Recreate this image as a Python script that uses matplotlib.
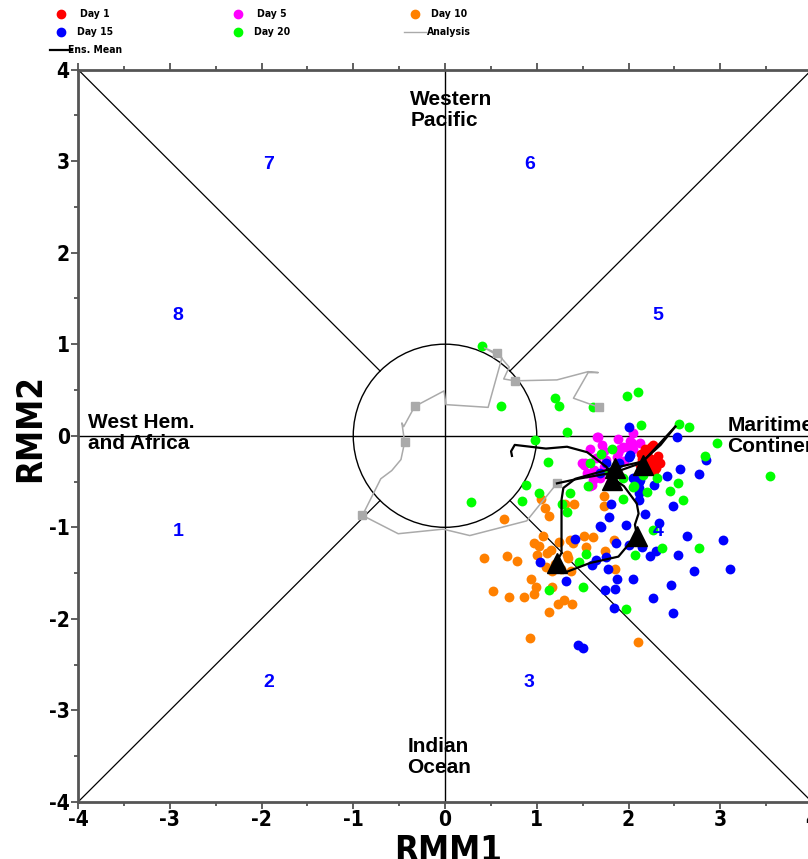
import numpy as np
import matplotlib
matplotlib.use("Agg")
from matplotlib import pyplot as plt
from matplotlib.lines import Line2D
from matplotlib.patches import Circle

plt.rcParams["axes.unicode_minus"] = False

W, H = 808, 859

# ensemble members, by forecast day
day1_x = [2.20, 2.25, 2.30, 2.15, 2.22, 2.28, 2.18, 2.32, 2.12, 2.26, 2.34, 2.20, 2.24, 2.30, 2.14, 2.27]
day1_y = [-0.20, -0.25, -0.30, -0.25, -0.35, -0.38, -0.15, -0.22, -0.32, -0.30, -0.30, -0.28, -0.12, -0.35, -0.20, -0.10]

day5_x = [1.67, 1.71, 1.58, 1.73, 1.53, 1.65, 1.62, 1.60, 1.55, 1.89, 2.04, 1.91, 1.98, 1.87, 1.76,
          1.73, 1.69, 1.61, 1.80, 2.13, 2.05, 1.66, 1.51, 1.62, 2.02, 1.94, 2.05, 1.89, 1.49, 1.58, 1.78, 1.95]
day5_y = [-0.01, -0.10, -0.15, -0.17, -0.30, -0.24, -0.37, -0.54, -0.41, -0.04, -0.08, -0.15, -0.12, -0.23, -0.26,
          -0.34, -0.46, -0.48, -0.52, -0.08, -0.15, -0.01, -0.32, -0.43, -0.06, -0.12, 0.03, -0.19, -0.30, -0.55, -0.40, -0.28]

day10_x = [1.73, 1.73, 1.31, 1.41, 1.05, 1.09, 1.13, 0.64, 1.07, 0.97, 1.24, 1.36, 1.52, 1.61, 1.54, 1.15,
           1.00, 0.68, 0.78, 0.42, 1.34, 1.37, 1.10, 1.17, 0.94, 0.99, 1.17, 0.97, 0.86, 0.70, 0.52, 1.23,
           1.30, 1.38, 1.13, 0.93, 1.74, 1.85, 2.10, 1.84, 1.11, 1.40, 1.33, 1.20, 1.26, 1.02]
day10_y = [-0.66, -0.77, -0.74, -0.74, -0.69, -0.79, -0.88, -0.91, -1.10, -1.17, -1.16, -1.14, -1.10, -1.11, -1.22, -1.25,
           -1.30, -1.31, -1.37, -1.33, -1.34, -1.48, -1.43, -1.48, -1.56, -1.65, -1.65, -1.73, -1.76, -1.76, -1.70, -1.84,
           -1.79, -1.84, -1.93, -2.21, -1.26, -1.45, -2.25, -1.14, -1.28, -1.17, -1.30, -1.40, -1.45, -1.20]

day15_x = [2.00, 2.53, 2.84, 2.56, 2.77, 2.42, 2.28, 2.13, 2.05, 2.11, 2.49, 2.18, 2.33, 1.81, 1.79, 1.69,
           1.97, 1.42, 1.86, 2.00, 2.15, 2.23, 2.30, 1.76, 1.65, 1.60, 1.78, 1.87, 2.05, 1.74, 1.85, 2.27,
           1.84, 2.49, 2.54, 2.64, 2.71, 2.46, 3.03, 3.11, 1.04, 1.32, 1.45, 1.50, 2.02, 2.11, 1.69, 2.01,
           2.11, 1.70, 2.11, 1.90, 1.75]
day15_y = [0.10, -0.01, -0.26, -0.36, -0.42, -0.44, -0.54, -0.48, -0.46, -0.70, -0.77, -0.85, -0.95, -0.74, -0.89, -0.99,
           -0.98, -1.13, -1.17, -1.19, -1.21, -1.31, -1.26, -1.32, -1.36, -1.41, -1.46, -1.56, -1.56, -1.69, -1.67, -1.77,
           -1.88, -1.94, -1.30, -1.10, -1.48, -1.63, -1.14, -1.45, -1.38, -1.59, -2.28, -2.32, -0.21, -0.50, -0.41, -0.23,
           -0.63, -1.00, -0.57, -0.30, -0.30]

day20_x = [0.40, 0.61, 1.20, 1.24, 1.61, 1.33, 0.98, 1.12, 0.88, 1.02, 0.84, 0.28, 1.36, 1.27, 1.33, 1.56,
           1.58, 1.82, 1.98, 2.10, 2.14, 2.55, 2.66, 2.96, 2.83, 3.54, 2.54, 2.45, 2.59, 2.31, 2.20, 2.06,
           1.94, 2.16, 1.94, 2.27, 2.37, 2.07, 2.77, 1.54, 1.46, 1.50, 1.13, 1.97, 1.79, 1.70, 2.05]
day20_y = [0.98, 0.32, 0.41, 0.33, 0.31, 0.04, -0.05, -0.29, -0.54, -0.62, -0.71, -0.72, -0.63, -0.75, -0.83, -0.55,
           -0.30, -0.15, 0.43, 0.48, 0.12, 0.13, 0.10, -0.08, -0.22, -0.44, -0.52, -0.60, -0.70, -0.46, -0.61, -0.55,
           -0.46, -0.43, -0.69, -1.03, -1.23, -1.30, -1.23, -1.29, -1.38, -1.65, -1.68, -1.89, -0.40, -0.20, -0.56]

# observed analysis track and its 5-day marks
ana_x = [1.68, 1.40, 1.56, 1.67, 1.56, 1.22, 0.76, 0.64, 0.70, 0.57, 0.43, 0.62, 0.47, 0.01, -0.01, -0.33,
         -0.45, -0.47, -0.44, -0.48, -0.58, -0.70, -0.90, -0.51, -0.02, 0.27, 0.89, 1.22]
ana_y = [0.31, 0.41, 0.69, 0.69, 0.70, 0.61, 0.60, 0.62, 0.75, 0.90, 0.96, 0.85, 0.31, 0.34, 0.49, 0.32,
         0.10, 0.14, -0.07, -0.26, -0.38, -0.47, -0.87, -1.07, -1.02, -1.09, -0.93, -0.52]
ana_sq_x = [1.68, 0.76, 0.57, -0.33, -0.44, -0.90, 1.22]
ana_sq_y = [0.31, 0.60, 0.90, 0.32, -0.07, -0.87, -0.52]

# ensemble mean tracks
ens1_x = [1.22, 1.45, 1.85, 2.13, 2.35, 2.51]
ens1_y = [-0.52, -0.47, -0.40, -0.30, -0.10, 0.10]
ens2_x = [0.73, 0.72, 0.76, 0.93, 1.10, 1.33, 1.55, 1.76, 1.82, 1.95, 2.09, 2.11, 2.07, 2.09, 1.89, 1.58,
          1.29, 1.22, 1.27, 1.27, 1.29, 1.42, 1.85, 2.16, 2.51]
ens2_y = [-0.22, -0.17, -0.10, -0.12, -0.14, -0.12, -0.18, -0.34, -0.46, -0.55, -0.74, -0.85, -0.97, -1.08, -1.32, -1.39,
          -1.50, -1.37, -1.28, -0.70, -0.57, -0.47, -0.35, -0.28, 0.10]
tri_x = [2.16, 1.85, 1.82, 2.09, 1.22]
tri_y = [-0.32, -0.35, -0.48, -1.10, -1.39]

phase_nums = ["1", "2", "3", "4", "5", "6", "7", "8"]
phase_x = [-2.91, -1.92, 0.92, 2.32, 2.32, 0.92, -1.92, -2.91]
phase_y = [-1.05, -2.70, -2.70, -1.05, 1.31, 2.96, 2.96, 1.31]

regions = ["Western\nPacific", "Indian\nOcean", "West Hem.\nand Africa", "Maritime\nContinent"]
region_x = [-0.38, -0.41, -3.89, 3.08]
region_y = [3.56, -3.51, 0.03, 0.0]

ticks = [-4, -3, -2, -1, 0, 1, 2, 3, 4]

SANS = ["Liberation Sans", "DejaVu Sans"]
COND = dict(family="DejaVu Sans", fontstretch="condensed", fontweight="bold")

fig = plt.figure(figsize=(W / 100, H / 100), dpi=100)
ax = fig.add_axes([78 / W, 1 - 802 / H, 734 / W, 732.5 / H])
ax.set_xlim(-4, 4)
ax.set_ylim(-4, 4)

# phase-space frame: unit circle, axes, diagonals
ax.add_patch(Circle((0, 0), 1.0, fill=False, color="black", lw=1.0, zorder=1))
ax.plot([-4, 4], [0, 0], color="black", lw=1.0, zorder=1)
ax.plot([0, 0], [-4, 4], color="black", lw=1.0, zorder=1)
r = np.sqrt(0.5)
for sx, sy in [(1, 1), (-1, 1), (1, -1), (-1, -1)]:
    ax.plot([sx * r, sx * 4], [sy * r, sy * 4], color="black", lw=0.9, zorder=1)

# members
dot = dict(s=50, linewidths=0, zorder=3)
ax.scatter(day5_x, day5_y, color="#ff00ff", **dot)
ax.scatter(day1_x, day1_y, color="#ff0000", **dot)
ax.scatter(day10_x, day10_y, color="#ff8000", **dot)
ax.scatter(day15_x, day15_y, color="#0000ff", **dot)
ax.scatter(day20_x, day20_y, color="#00ff00", **dot)

# analysis
ax.plot(ana_x, ana_y, color="#aaaaaa", lw=1.1, zorder=4)
ax.plot(ana_sq_x, ana_sq_y, ls="none", marker="s", ms=6, color="#aaaaaa", zorder=4)

# ensemble mean
ax.plot(ens1_x, ens1_y, color="black", lw=1.6, zorder=5)
ax.plot(ens2_x, ens2_y, color="black", lw=1.6, zorder=5)
ax.plot(tri_x, tri_y, ls="none", marker="^", ms=14, color="black", zorder=6)

for t, x, y in zip(phase_nums, phase_x, phase_y):
    ax.text(x, y, t, color="#0000ff", fontsize=14, fontweight="bold",
            ha="center", va="center", family=SANS)
for t, x, y in zip(regions, region_x, region_y):
    ax.text(x, y, t, color="black", fontsize=15, fontweight="bold",
            ha="left", va="center", linespacing=1.1, family=SANS)

ax.set_xticks(ticks)
ax.set_yticks(ticks)
ax.set_xticks(np.arange(-4, 4.01, 0.5), minor=True)
ax.set_yticks(np.arange(-4, 4.01, 0.5), minor=True)
ax.tick_params(which="both", direction="out", top=True, color="#444444", width=1.2)
ax.tick_params(which="major", length=5, labelsize=15, pad=1)
ax.tick_params(which="minor", length=3)
for lab in ax.get_xticklabels() + ax.get_yticklabels():
    lab.set_fontweight("bold")
    lab.set_family("DejaVu Sans")
    lab.set_fontstretch("condensed")
for sp in ax.spines.values():
    sp.set_color("#555555")
    sp.set_linewidth(2.0)

ax.set_xlabel("RMM1", fontsize=25, **COND)
ax.set_ylabel("RMM2", fontsize=25, **COND)
ax.xaxis.set_label_coords(0.504, -0.044)
ax.yaxis.set_label_coords(-0.042, 0.51)


# legend, drawn in figure pixels
def fx(px):
    return px / W


def fy(py):
    return 1 - py / H


legend_items = [
    ("Day 1", "#ff0000", 61, 95, 14, "dot"),
    ("Day 15", "#0000ff", 61, 95, 32, "dot"),
    ("Ens. Mean", "black", 61, 95, 50, "line"),
    ("Day 5", "#ff00ff", 238, 272, 14, "dot"),
    ("Day 20", "#00ff00", 238, 272, 32, "dot"),
    ("Day 10", "#ff8000", 415, 449, 14, "dot"),
    ("Analysis", "#aaaaaa", 415, 449, 32, "line"),
]
for name, col, mx, tx, py, kind in legend_items:
    if kind == "dot":
        fig.add_artist(Line2D([fx(mx)], [fy(py)], marker="o", ms=6, ls="none",
                              color=col, transform=fig.transFigure))
    else:
        fig.add_artist(Line2D([fx(mx - 11), fx(mx + 11)], [fy(py), fy(py)], color=col,
                              lw=1.6 if col == "black" else 1.0, transform=fig.transFigure))
    fig.text(fx(tx), fy(py), name, fontsize=7.5, ha="center", va="center", **COND)

fig.savefig("out.png", dpi=100)
